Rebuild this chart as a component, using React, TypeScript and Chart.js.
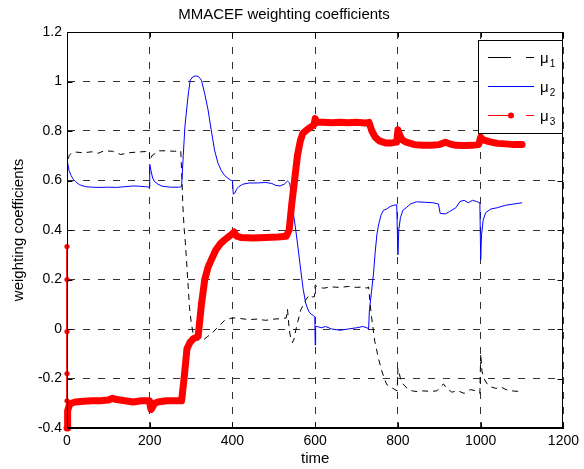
import { useEffect, useRef } from 'react';
import { Chart, registerables } from 'chart.js';

Chart.register(...registerables);

const FONT = "'Liberation Sans', Arial, Helvetica, sans-serif";

const titleText = 'MMACEF weighting coefficients';
const xAxisTitle = 'time';
const yAxisTitle = 'weighting coefficients';

const xTicks = [0, 200, 400, 600, 800, 1000, 1200];
const xTickLabels = ['0', '200', '400', '600', '800', '1000', '1200'];
const yTicks = [-0.4, -0.2, 0, 0.2, 0.4, 0.6, 0.8, 1, 1.2];
const yTickLabels = ['-0.4', '-0.2', '0', '0.2', '0.4', '0.6', '0.8', '1', '1.2'];

const legendNames = ['\u03bc', '\u03bc', '\u03bc'];
const legendSubs = ['1', '2', '3'];

// mu1 (black, dashed)
const mu1Time = [0, 0.5, 2, 5, 10, 20, 40, 60, 75, 90, 110, 130, 150, 170, 190, 199, 200, 202, 205, 210, 220, 240, 260, 275, 278, 280, 283, 286, 290, 293, 296, 300, 305, 310, 317, 325, 333, 340, 349, 360, 370, 381, 390, 400, 420, 440, 460, 480, 500, 520, 530, 533, 537, 541, 545, 549, 553, 558, 565, 572, 577, 585, 593, 598, 600, 605, 620, 640, 660, 680, 700, 715, 725, 729, 733, 736, 740, 744, 748, 753, 761, 767, 773, 783, 793, 798, 800, 802, 806, 811, 817, 825, 835, 846, 860, 880, 894, 902, 910, 918, 930, 945, 960, 975, 990, 998, 1000, 1001, 1003, 1008, 1017, 1027, 1037, 1050, 1061, 1075, 1090, 1100];
const mu1Values = [0.333, 0.6, 0.68, 0.7, 0.71, 0.715, 0.712, 0.716, 0.71, 0.72, 0.718, 0.705, 0.712, 0.715, 0.717, 0.718, 0.69, 0.68, 0.7, 0.705, 0.72, 0.72, 0.718, 0.72, 0.6, 0.5, 0.41, 0.35, 0.25, 0.17, 0.09, 0.03, -0.02, -0.04, -0.045, -0.04, -0.04, -0.03, -0.02, 0.0, 0.016, 0.035, 0.04, 0.045, 0.042, 0.038, 0.04, 0.035, 0.04, 0.042, 0.045, 0.08, 0.0, -0.04, -0.055, -0.04, -0.005, 0.03, 0.077, 0.1, 0.117, 0.137, 0.13, 0.13, 0.178, 0.17, 0.165, 0.17, 0.168, 0.172, 0.168, 0.17, 0.165, 0.17, 0.1, 0.05, 0.0, -0.05, -0.08, -0.12, -0.17, -0.2, -0.225, -0.235, -0.245, -0.25, -0.16, -0.17, -0.2, -0.22, -0.23, -0.245, -0.25, -0.253, -0.25, -0.252, -0.25, -0.235, -0.222, -0.24, -0.255, -0.25, -0.26, -0.245, -0.25, -0.26, -0.1, -0.12, -0.17, -0.2, -0.226, -0.235, -0.24, -0.235, -0.245, -0.25, -0.252, -0.25];

// mu2 (blue, solid)
const mu2Time = [0, 0.5, 2, 5, 10, 15, 21, 30, 45, 60, 80, 100, 120, 140, 160, 175, 190, 199, 200, 203, 207, 212, 220, 230, 250, 270, 277, 281, 285, 290, 294, 298, 304, 310, 318, 325, 333, 341, 349, 357, 365, 373, 381, 389, 397, 400, 402, 406, 410, 415, 425, 440, 460, 480, 495, 505, 515, 525, 533, 538, 542, 547, 553, 559, 565, 571, 577, 581, 585, 590, 595, 599, 600, 601, 605, 615, 625, 640, 660, 680, 700, 715, 725, 729, 731, 736, 741, 745, 749, 753, 759, 765, 773, 781, 790, 797, 800, 802, 806, 812, 820, 830, 845, 865, 885, 898, 902, 915, 925, 940, 950, 960, 970, 980, 990, 998, 1000, 1002, 1006, 1012, 1025, 1040, 1060, 1080, 1100];
const mu2Values = [0.333, 0.757, 0.67, 0.64, 0.62, 0.605, 0.595, 0.583, 0.575, 0.573, 0.572, 0.573, 0.572, 0.575, 0.578, 0.577, 0.575, 0.573, 0.665, 0.64, 0.61, 0.595, 0.585, 0.577, 0.573, 0.573, 0.575, 0.7, 0.817, 0.9, 0.96, 1.006, 1.018, 1.023, 1.02, 1.005, 0.95, 0.885, 0.8, 0.72, 0.67, 0.64, 0.62, 0.609, 0.6, 0.6, 0.545, 0.55, 0.565, 0.575, 0.585, 0.59, 0.59, 0.592, 0.588, 0.58, 0.578, 0.585, 0.598, 0.59, 0.55, 0.47, 0.4, 0.32, 0.238, 0.16, 0.105, 0.085, 0.07, 0.06, 0.055, 0.05, -0.065, 0.01, 0.01, 0.005, 0.01, 0.0, -0.005, 0.0, 0.005, 0.01, 0.005, 0.0, 0.077, 0.15, 0.226, 0.31, 0.38, 0.42, 0.46, 0.48, 0.485, 0.495, 0.5, 0.502, 0.3, 0.4, 0.45, 0.48, 0.49, 0.505, 0.514, 0.512, 0.51, 0.505, 0.467, 0.465, 0.475, 0.49, 0.515, 0.52, 0.51, 0.52, 0.515, 0.51, 0.28, 0.38, 0.44, 0.47, 0.485, 0.49, 0.5, 0.505, 0.51];

// mu3 (red, dots) - initial samples right at the start
const mu3InitTime = [0, 0.02, 0.04, 0.06, 0.08, 0.1];
const mu3InitValues = [0.333, 0.2, -0.01, -0.18, -0.29, -0.4];

// mu3 main trace
const mu3Time = [0.1, 1, 2, 5, 10, 20, 40, 60, 80, 100, 110, 120, 140, 160, 180, 199, 203, 207, 212, 220, 240, 260, 277, 283, 290, 297, 305, 317, 325, 333, 341, 349, 360, 371, 381, 392, 400, 404, 410, 420, 450, 480, 510, 530, 537, 543, 550, 557, 564, 570, 580, 590, 597, 600, 603, 620, 640, 660, 680, 700, 720, 730, 737, 745, 755, 770, 785, 797, 800, 804, 810, 820, 840, 860, 880, 900, 915, 925, 940, 960, 980, 995, 1000, 1005, 1020, 1040, 1060, 1080, 1100];
const mu3Values = [-0.4, -0.37, -0.33, -0.31, -0.3, -0.295, -0.292, -0.29, -0.29, -0.287, -0.28, -0.285, -0.29, -0.295, -0.29, -0.29, -0.325, -0.315, -0.3, -0.295, -0.29, -0.29, -0.29, -0.2, -0.08, -0.055, -0.04, -0.03, 0.1, 0.2, 0.25, 0.28, 0.32, 0.345, 0.36, 0.375, 0.385, 0.392, 0.375, 0.37, 0.368, 0.37, 0.372, 0.375, 0.4, 0.5, 0.6, 0.7, 0.76, 0.79, 0.805, 0.817, 0.825, 0.85, 0.835, 0.835, 0.833, 0.835, 0.833, 0.835, 0.832, 0.835, 0.8, 0.775, 0.76, 0.752, 0.752, 0.755, 0.805, 0.785, 0.765, 0.755, 0.745, 0.742, 0.742, 0.745, 0.755, 0.748, 0.742, 0.741, 0.742, 0.745, 0.775, 0.765, 0.757, 0.75, 0.748, 0.745, 0.745];

const zip = (ts: number[], vs: number[]) => ts.map((t, i) => ({ x: t, y: vs[i] }));

const framePlugin = {
  id: 'matlabFrame',
  afterDraw(chart: any) {
    const { ctx, chartArea: a, scales } = chart;
    ctx.save();
    ctx.strokeStyle = '#000';
    ctx.lineWidth = 1;
    ctx.setLineDash([]);
    const L = Math.round(a.left) + 0.5;
    const R = Math.round(a.right) - 0.5;
    const T = Math.round(a.top) + 0.5;
    const B = Math.round(a.bottom) - 0.5;
    ctx.strokeRect(L, T, R - L, B - T);
    const tl = 5;
    ctx.beginPath();
    xTicks.forEach((v) => {
      const px = Math.round(scales.x.getPixelForValue(v)) + 0.5;
      ctx.moveTo(px, B); ctx.lineTo(px, B - tl);
      ctx.moveTo(px, T); ctx.lineTo(px, T + tl);
    });
    yTicks.forEach((v) => {
      const py = Math.round(scales.y.getPixelForValue(v)) + 0.5;
      ctx.moveTo(L, py); ctx.lineTo(L + tl, py);
      ctx.moveTo(R, py); ctx.lineTo(R - tl, py);
    });
    ctx.stroke();

    // legend
    const bx = 478.5, by = 40.5, bw = 84, bh = 93;
    ctx.fillStyle = '#fff';
    ctx.fillRect(bx, by, bw, bh);
    ctx.strokeRect(bx, by, bw, bh);
    const rows = [57.5, 86.5, 115.5];
    const colors = ['#000', '#0000ff', '#ff0000'];
    rows.forEach((y, i) => {
      ctx.strokeStyle = colors[i];
      ctx.lineWidth = 1;
      ctx.beginPath();
      if (i === 1) {
        ctx.moveTo(488, y); ctx.lineTo(534, y);
      } else {
        ctx.moveTo(488, y); ctx.lineTo(511, y);
        ctx.moveTo(526, y); ctx.lineTo(534, y);
      }
      ctx.stroke();
      if (i === 2) {
        ctx.fillStyle = '#ff0000';
        ctx.beginPath();
        ctx.arc(511, y, 3, 0, Math.PI * 2);
        ctx.fill();
      }
      ctx.fillStyle = '#000';
      ctx.font = `15px ${FONT}`;
      ctx.textAlign = 'left';
      ctx.textBaseline = 'alphabetic';
      ctx.fillText(legendNames[i], 540, y + 5);
      const w = ctx.measureText(legendNames[i]).width;
      ctx.font = `10px ${FONT}`;
      ctx.fillText(legendSubs[i], 540 + w + 1, y + 9);
    });
    ctx.restore();
  },
};

export default function App() {
  const ref = useRef<HTMLCanvasElement | null>(null);
  useEffect(() => {
    document.body.style.margin = '0';
    const canvas = ref.current;
    if (!canvas) return;
    const chart = new Chart(canvas, {
      type: 'line',
      data: {
        datasets: [
          {
            label: 'mu3 init',
            data: zip(mu3InitTime, mu3InitValues),
            borderColor: '#ff0000',
            backgroundColor: '#ff0000',
            borderWidth: 1,
            pointRadius: 2.6,
            pointBorderWidth: 0,
            pointBackgroundColor: '#ff0000',
            clip: false,
            order: 0,
          },
          {
            label: 'mu3',
            data: zip(mu3Time, mu3Values),
            borderColor: '#ff0000',
            borderWidth: 7,
            borderCapStyle: 'round',
            borderJoinStyle: 'round',
            pointRadius: 0,
            clip: 4,
            order: 0,
          },
          {
            label: 'mu2',
            data: zip(mu2Time, mu2Values),
            borderColor: '#0000ff',
            borderWidth: 1,
            pointRadius: 0,
            order: 1,
          },
          {
            label: 'mu1',
            data: zip(mu1Time, mu1Values),
            borderColor: '#000000',
            borderWidth: 1,
            borderDash: [6, 5],
            pointRadius: 0,
            order: 2,
          },
        ] as any,
      },
      options: {
        responsive: false,
        animation: false,
        events: [],
        layout: { padding: { left: 0, right: 16, top: 0, bottom: 0 } },
        plugins: {
          legend: { display: false },
          tooltip: { enabled: false },
          title: {
            display: true,
            text: titleText,
            color: '#000',
            font: { family: FONT, size: 15, weight: 'normal' },
            padding: { top: 6, bottom: 8 },
          },
        },
        scales: {
          x: {
            type: 'linear',
            min: 0,
            max: 1200,
            afterBuildTicks: (s: any) => { s.ticks = xTicks.map((v) => ({ value: v })); },
            afterFit: (s: any) => { s.height = 41; },
            ticks: {
              color: '#000',
              font: { family: FONT, size: 14 },
              padding: 5,
              maxRotation: 0,
              autoSkip: false,
              callback: (_v: any, i: number) => xTickLabels[i],
            },
            grid: { color: '#333', lineWidth: 1, drawTicks: false },
            border: { display: true, color: '#000', width: 1, dash: [7, 8] },
            title: {
              display: true,
              text: xAxisTitle,
              color: '#000',
              font: { family: FONT, size: 15 },
              padding: { top: 0, bottom: 1 },
            },
          },
          y: {
            type: 'linear',
            min: -0.4,
            max: 1.2,
            afterBuildTicks: (s: any) => { s.ticks = yTicks.map((v) => ({ value: v })); },
            afterFit: (s: any) => { s.width = 67; },
            ticks: {
              color: '#000',
              font: { family: FONT, size: 14 },
              padding: 5,
              autoSkip: false,
              callback: (_v: any, i: number) => yTickLabels[i],
            },
            grid: { color: '#333', lineWidth: 1, drawTicks: false },
            border: { display: true, color: '#000', width: 1, dash: [7, 8] },
            title: {
              display: true,
              text: yAxisTitle,
              color: '#000',
              font: { family: FONT, size: 15 },
              padding: { top: 10, bottom: 0 },
            },
          },
        },
      } as any,
      plugins: [framePlugin],
    });
    return () => chart.destroy();
  }, []);
  return <canvas ref={ref} width={584} height={469} style={{ display: 'block' }} />;
}
